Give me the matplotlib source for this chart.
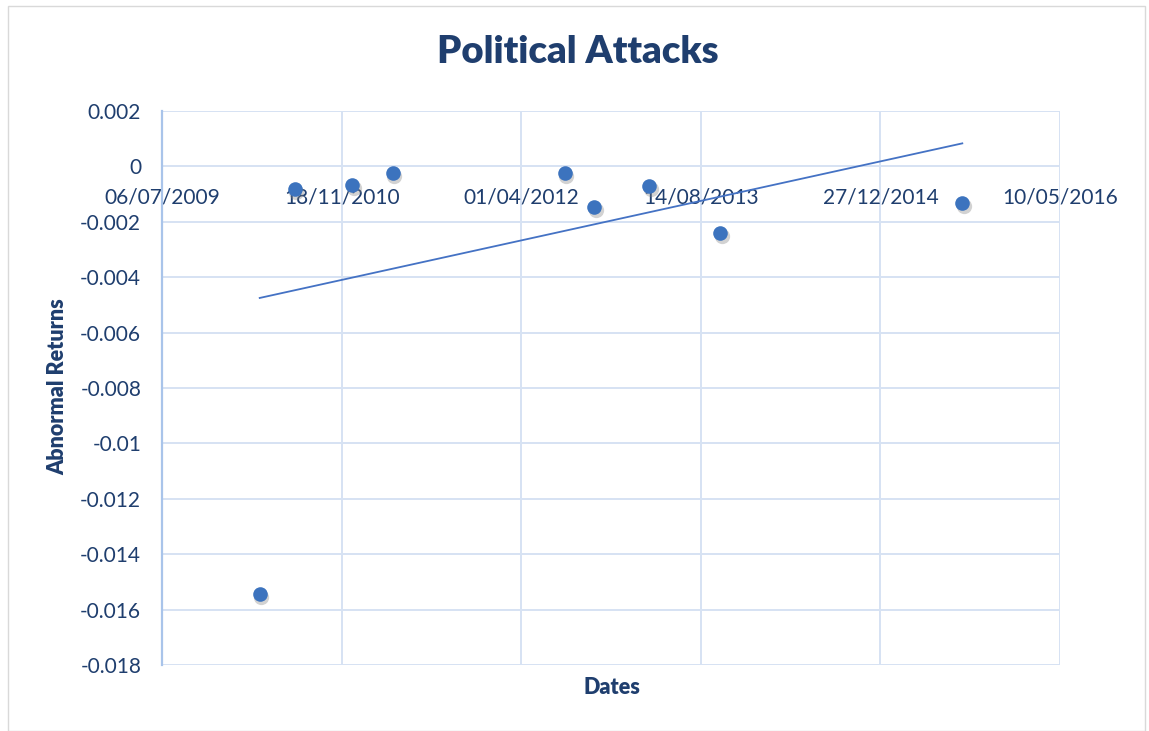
import numpy as np
import pandas as pd
import matplotlib
matplotlib.use("Agg")
import matplotlib.pyplot as plt
import matplotlib.dates as mdates
from matplotlib.patches import Rectangle
import matplotlib.transforms as mtransforms

# ---- data ----
event_dates = ["2010-04-04", "2010-07-10", "2010-12-17", "2011-04-10", "2012-07-31",
               "2012-10-22", "2013-03-24", "2013-10-07", "2015-08-12"]
abnormal_returns = [-0.01542, -0.00080, -0.00066, -0.00025, -0.00025,
                    -0.00148, -0.00069, -0.00239, -0.00132]
x_tick_dates = ["2009-07-06", "2010-11-18", "2012-04-01", "2013-08-14", "2014-12-27", "2016-05-10"]
x_tick_labels = ["06/07/2009", "18/11/2010", "01/04/2012", "14/08/2013", "27/12/2014", "10/05/2016"]
y_ticks = [0.002, 0, -0.002, -0.004, -0.006, -0.008, -0.01, -0.012, -0.014, -0.016, -0.018]
y_tick_labels = ["0.002", "0", "-0.002", "-0.004", "-0.006", "-0.008", "-0.01", "-0.012",
                 "-0.014", "-0.016", "-0.018"]
title = "Political Attacks"
x_label = "Dates"
y_label = "Abnormal Returns"

TXT = "#1F3E6E"
GRID = "#D6E2F3"
BLUE = "#3C73BE"
FONT = "Lato"

x = mdates.date2num(pd.to_datetime(event_dates))
y = np.array(abnormal_returns)
xt = mdates.date2num(pd.to_datetime(x_tick_dates))

fig = plt.figure(figsize=(11.49, 7.31), dpi=100)
fig.patch.set_facecolor("white")
fig.add_artist(Rectangle((8 / 1149, 0.0), 1137 / 1149, 1 - 6 / 731, transform=fig.transFigure,
                         fill=False, edgecolor="#D9D9D9", linewidth=1.0))

ax = fig.add_axes([162 / 1149, 1 - 665 / 731, (1060 - 162) / 1149, (665 - 111) / 731])
ax.set_xlim(xt[0], xt[-1])
ax.set_ylim(y_ticks[-1], y_ticks[0])

ax.set_xticks(xt)
ax.set_xticklabels(x_tick_labels)
ax.set_yticks(y_ticks)
ax.set_yticklabels(y_tick_labels)

ax.grid(True, color=GRID, linewidth=1.4)
ax.set_axisbelow(True)
for s in ["top", "right", "bottom"]:
    ax.spines[s].set_visible(False)
ax.spines["left"].set_color("#A9C4EA")
ax.spines["left"].set_linewidth(1.6)
ax.spines["left"].set_zorder(1)

# x tick labels sit at y = 0
ax.spines["bottom"].set_position(("data", 0))
ax.tick_params(axis="x", length=0, pad=15, labelsize=15, labelcolor=TXT)
ax.tick_params(axis="y", length=0, pad=15, labelsize=15, labelcolor=TXT)
for lab in ax.get_xticklabels() + ax.get_yticklabels():
    lab.set_family(FONT)

# trendline
coef = np.polyfit(x, y, 1)
xl = np.array([x.min(), x.max()])
ax.plot(xl, np.polyval(coef, xl), color="#4472C4", linewidth=1.3, zorder=3)

# marker shadow
shadow = mtransforms.offset_copy(ax.transData, fig=fig, x=1.5, y=-3, units="dots")
ax.plot(x, y, "o", markersize=11, color="#7F7F7F", alpha=0.35, markeredgewidth=0,
        transform=shadow, zorder=4)
ax.plot(x, y, "o", markersize=10.5, color=BLUE, markeredgewidth=0, zorder=5)

fig.text(578 / 1149, 1 - 52 / 731, title, ha="center", va="center", fontsize=27.5,
         fontweight="heavy", color=TXT, family=FONT)
fig.text(612 / 1149, 1 - 687 / 731, x_label, ha="center", va="center", fontsize=15.5,
         fontweight="heavy", color=TXT, family=FONT)
fig.text(58 / 1149, 1 - 387 / 731, y_label, ha="center", va="center", rotation=90,
         fontsize=15.5, fontweight="heavy", color=TXT, family=FONT)

fig.savefig("out.png", dpi=100)
